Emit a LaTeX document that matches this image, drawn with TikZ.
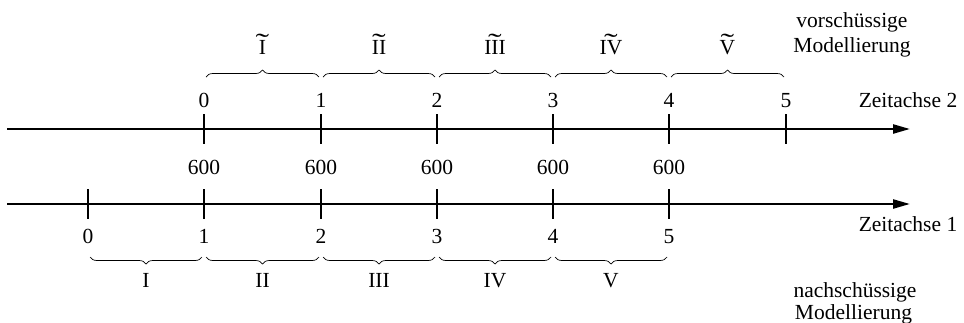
\documentclass[tikz,border=0pt]{standalone}
\usepackage{fontspec}
\setmainfont{Liberation Serif}
\usetikzlibrary{arrows.meta,decorations.pathreplacing}
\newcommand\tilover[1]{{\ooalign{#1\cr\hidewidth\raisebox{0.1em}{\scalebox{1.9}[1.2]{\char"02DC}}\hidewidth\cr}}}
\begin{document}
\begin{tikzpicture}[x=1pt,y=-1pt,
  font=\fontsize{21.5}{24}\selectfont,
  lbl/.style={inner sep=0pt, anchor=base},
  axisline/.style={line width=2.4pt, -{Triangle[length=17pt,width=9pt]}},
  tickline/.style={line width=1.2pt},
  bracedeco/.style={line width=0.7pt, decorate, decoration={brace, amplitude=7pt}},
  bracedecomir/.style={line width=0.7pt, decorate, decoration={brace, amplitude=7pt, mirror}}]
\useasboundingbox (0,0) rectangle (964,322);
% axis coordinates
\coordinate (a2s) at (7,129);
\coordinate (a2e) at (910,129);
\coordinate (a1s) at (7,204);
\coordinate (a1e) at (910,204);
\draw[axisline] (a2s) -- (a2e);
\draw[axisline] (a1s) -- (a1e);
% top axis ticks
\foreach \i/\x in {0/204,1/321,2/437,3/553,4/669,5/786}{
  \coordinate (t2top\i) at (\x,114);
  \coordinate (t2bot\i) at (\x,144);
  \draw[tickline] (t2top\i) -- (t2bot\i);
  \node[lbl] (n2\i) at (\x,107) {\i};
}
% bottom axis ticks
\foreach \i/\x in {0/88,1/204,2/321,3/437,4/553,5/669}{
  \coordinate (t1top\i) at (\x,189);
  \coordinate (t1bot\i) at (\x,219);
  \draw[tickline] (t1top\i) -- (t1bot\i);
  \node[lbl] (n1\i) at (\x,243) {\i};
}
% payments
\foreach \i/\x in {1/204,2/321,3/437,4/553,5/669}{
  \node[lbl] (p\i) at (\x,174) {600};
}
% top braces
\foreach \a/\b/\r in {204/321/I,321/437/II,437/553/III,553/669/IV,669/786/V}{
  \coordinate (bt\a) at (\a+2,77);
  \coordinate (bt\b e) at (\b-2,77);
  \draw[bracedeco] (bt\a) -- (bt\b e);
  \node[lbl] (rt\r) at ({(\a+\b)/2},54) {\tilover{\r}};
}
% bottom braces
\foreach \a/\b/\r in {88/204/I,204/321/II,321/437/III,437/553/IV,553/669/V}{
  \coordinate (bb\a) at (\a+2,257);
  \coordinate (bb\b e) at (\b-2,257);
  \draw[bracedecomir] (bb\a) -- (bb\b e);
  \node[lbl] (rb\r) at ({(\a+\b)/2},287) {\r};
}
% axis names
\node[lbl] (z2) at (908,107) {Zeitachse 2};
\node[lbl] (z1) at (908,231) {Zeitachse 1};
\node[lbl] (v1) at (852,27) {vorschüssige};
\node[lbl] (v2) at (852,52) {Modellierung};
\node[lbl] (m1) at (855,297) {nachschüssige};
\node[lbl] (m2) at (853.5,319) {Modellierung};
\end{tikzpicture}
\end{document}
